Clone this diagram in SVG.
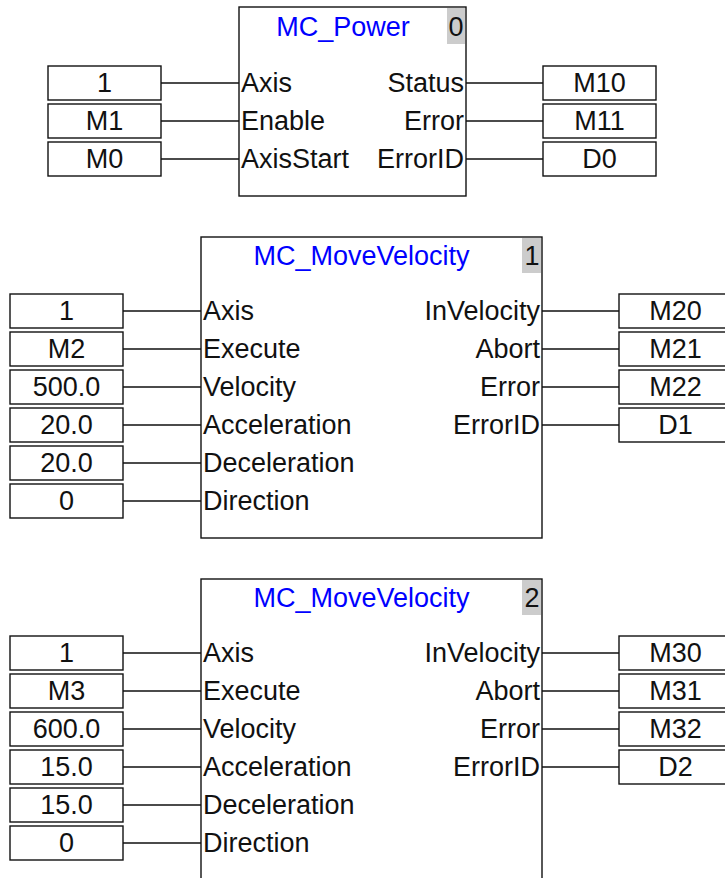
<svg xmlns="http://www.w3.org/2000/svg" width="725" height="878" viewBox="0 0 725 878">
<style>
text{font-family:"Liberation Sans",Arial,sans-serif;font-size:27px;fill:#111}
.blk{fill:#fff;stroke:#111;stroke-width:1.4}
.num{fill:#cccccc}
.ttl{fill:#0000ff;text-anchor:middle}
.idx{text-anchor:middle}
.box{fill:#fff;stroke:#111;stroke-width:1.4}
.val{text-anchor:middle}
.r{text-anchor:end}
.wire{stroke:#111;stroke-width:1.4;fill:none}
</style>
<rect width="725" height="878" fill="#fff"/>
<g id="connectors">
<path class="wire" d="M161 83H239M161 121H239M161 159H239M466 83H543M466 121H543M466 159H543"/>
<path class="wire" d="M123 311H201M123 349H201M123 387H201M123 425H201M123 463H201M123 501H201M542 311H619M542 349H619M542 387H619M542 425H619"/>
<path class="wire" d="M123 653H201M123 691H201M123 729H201M123 767H201M123 805H201M123 843H201M542 653H619M542 691H619M542 729H619M542 767H619"/>
</g>
<g id="block0">
<rect class="blk" x="239" y="7" width="227" height="189"/>
<rect class="num" x="447" y="8" width="18" height="36"/>
<text class="ttl" x="343" y="36">MC_Power</text>
<text class="idx" x="456" y="36">0</text>
<text x="241" y="92">Axis</text>
<text x="241" y="130">Enable</text>
<text x="241" y="168">AxisStart</text>
<text class="r" x="464" y="92">Status</text>
<text class="r" x="464" y="130">Error</text>
<text class="r" x="464" y="168">ErrorID</text>
</g>
<g id="block0-inputs">
<rect class="box" x="48" y="66" width="113" height="34"/><text class="val" x="104.5" y="92">1</text>
<rect class="box" x="48" y="104" width="113" height="34"/><text class="val" x="104.5" y="130">M1</text>
<rect class="box" x="48" y="142" width="113" height="34"/><text class="val" x="104.5" y="168">M0</text>
</g>
<g id="block0-outputs">
<rect class="box" x="543" y="66" width="113" height="34"/><text class="val" x="599.5" y="92">M10</text>
<rect class="box" x="543" y="104" width="113" height="34"/><text class="val" x="599.5" y="130">M11</text>
<rect class="box" x="543" y="142" width="113" height="34"/><text class="val" x="599.5" y="168">D0</text>
</g>
<g id="block1">
<rect class="blk" x="201" y="237" width="341" height="301"/>
<rect class="num" x="522" y="238" width="19" height="35"/>
<text class="ttl" x="361.5" y="265">MC_MoveVelocity</text>
<text class="idx" x="532" y="265">1</text>
<text x="203" y="320">Axis</text>
<text x="203" y="358">Execute</text>
<text x="203" y="396">Velocity</text>
<text x="203" y="434">Acceleration</text>
<text x="203" y="472">Deceleration</text>
<text x="203" y="510">Direction</text>
<text class="r" x="540" y="320">InVelocity</text>
<text class="r" x="540" y="358">Abort</text>
<text class="r" x="540" y="396">Error</text>
<text class="r" x="540" y="434">ErrorID</text>
</g>
<g id="block1-inputs">
<rect class="box" x="10" y="294" width="113" height="34"/><text class="val" x="66.5" y="320">1</text>
<rect class="box" x="10" y="332" width="113" height="34"/><text class="val" x="66.5" y="358">M2</text>
<rect class="box" x="10" y="370" width="113" height="34"/><text class="val" x="66.5" y="396">500.0</text>
<rect class="box" x="10" y="408" width="113" height="34"/><text class="val" x="66.5" y="434">20.0</text>
<rect class="box" x="10" y="446" width="113" height="34"/><text class="val" x="66.5" y="472">20.0</text>
<rect class="box" x="10" y="484" width="113" height="34"/><text class="val" x="66.5" y="510">0</text>
</g>
<g id="block1-outputs">
<rect class="box" x="619" y="294" width="113" height="34"/><text class="val" x="675.5" y="320">M20</text>
<rect class="box" x="619" y="332" width="113" height="34"/><text class="val" x="675.5" y="358">M21</text>
<rect class="box" x="619" y="370" width="113" height="34"/><text class="val" x="675.5" y="396">M22</text>
<rect class="box" x="619" y="408" width="113" height="34"/><text class="val" x="675.5" y="434">D1</text>
</g>
<g id="block2">
<rect class="blk" x="201" y="579" width="341" height="320"/>
<rect class="num" x="522" y="580" width="19" height="35"/>
<text class="ttl" x="361.5" y="607">MC_MoveVelocity</text>
<text class="idx" x="532" y="607">2</text>
<text x="203" y="662">Axis</text>
<text x="203" y="700">Execute</text>
<text x="203" y="738">Velocity</text>
<text x="203" y="776">Acceleration</text>
<text x="203" y="814">Deceleration</text>
<text x="203" y="852">Direction</text>
<text class="r" x="540" y="662">InVelocity</text>
<text class="r" x="540" y="700">Abort</text>
<text class="r" x="540" y="738">Error</text>
<text class="r" x="540" y="776">ErrorID</text>
</g>
<g id="block2-inputs">
<rect class="box" x="10" y="636" width="113" height="34"/><text class="val" x="66.5" y="662">1</text>
<rect class="box" x="10" y="674" width="113" height="34"/><text class="val" x="66.5" y="700">M3</text>
<rect class="box" x="10" y="712" width="113" height="34"/><text class="val" x="66.5" y="738">600.0</text>
<rect class="box" x="10" y="750" width="113" height="34"/><text class="val" x="66.5" y="776">15.0</text>
<rect class="box" x="10" y="788" width="113" height="34"/><text class="val" x="66.5" y="814">15.0</text>
<rect class="box" x="10" y="826" width="113" height="34"/><text class="val" x="66.5" y="852">0</text>
</g>
<g id="block2-outputs">
<rect class="box" x="619" y="636" width="113" height="34"/><text class="val" x="675.5" y="662">M30</text>
<rect class="box" x="619" y="674" width="113" height="34"/><text class="val" x="675.5" y="700">M31</text>
<rect class="box" x="619" y="712" width="113" height="34"/><text class="val" x="675.5" y="738">M32</text>
<rect class="box" x="619" y="750" width="113" height="34"/><text class="val" x="675.5" y="776">D2</text>
</g>
</svg>
